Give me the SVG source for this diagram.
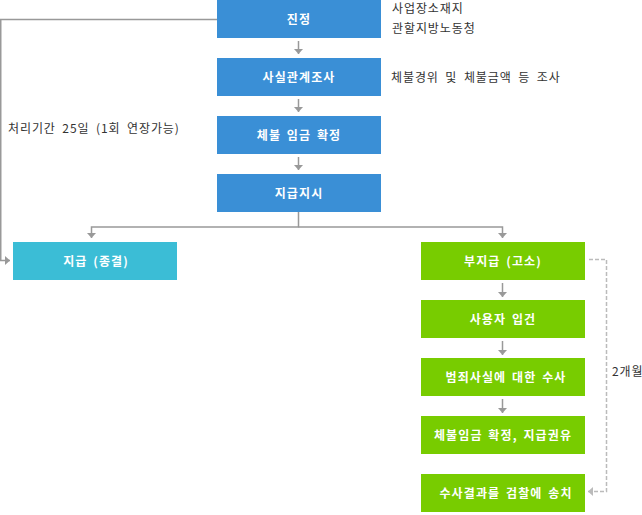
<svg xmlns="http://www.w3.org/2000/svg" width="642" height="515" viewBox="0 0 642 515">
<style>
.blue{fill:#3a8fd6}
.cyan{fill:#3bbdd6}
.green{fill:#78cc00}
.lbl{font-family:"Noto Sans CJK KR","Noto Sans",sans-serif;font-size:12px;font-weight:bold;fill:#fff;text-anchor:middle;letter-spacing:1.1px;word-spacing:2px}
.note{font-family:"Noto Sans CJK KR","Noto Sans",sans-serif;font-size:12px;fill:#333;letter-spacing:0.9px;word-spacing:3px}
.conn{fill:none;stroke:#999;stroke-width:1.5}
.dash{fill:none;stroke:#bbb;stroke-width:1.5;stroke-dasharray:4,2}
</style>
<defs>
<marker id="ah" markerUnits="userSpaceOnUse" markerWidth="6" markerHeight="10" refX="5" refY="4.5" orient="auto">
<path d="M0,0 L5,4.5 L0,9 z" fill="#999"/>
</marker>
<marker id="ahd" markerUnits="userSpaceOnUse" markerWidth="6" markerHeight="10" refX="5" refY="4.5" orient="auto">
<path d="M0,0 L5,4.5 L0,9 z" fill="#bbb"/>
</marker>
</defs>
<g id="connectors">
<path class="conn" d="M217,19.5 H0.75 V260.5 H10" marker-end="url(#ah)"/>
<path class="conn" d="M298.5,41 V54" marker-end="url(#ah)"/>
<path class="conn" d="M298.5,99 V112" marker-end="url(#ah)"/>
<path class="conn" d="M298.5,157 V170" marker-end="url(#ah)"/>
<path class="conn" d="M298.5,212 V227 H91.5 V238" marker-end="url(#ah)"/>
<path class="conn" d="M298.5,227 H502.5 V238" marker-end="url(#ah)"/>
<path class="conn" d="M502.5,283 V297" marker-end="url(#ah)"/>
<path class="conn" d="M502.5,341 V355" marker-end="url(#ah)"/>
<path class="conn" d="M502.5,399 V413" marker-end="url(#ah)"/>
<path class="dash" d="M589,259.5 H606.5 V491.5 H588" marker-end="url(#ahd)"/>
</g>
<g id="n1"><rect class="blue" x="217" y="0" width="164" height="38"/><text class="lbl" x="299" y="23.5">진정</text></g>
<g id="n2"><rect class="blue" x="217" y="58" width="164" height="38"/><text class="lbl" x="299" y="81.5">사실관계조사</text></g>
<g id="n3"><rect class="blue" x="217" y="116" width="164" height="38"/><text class="lbl" x="299" y="139.5">체불 임금 확정</text></g>
<g id="n4"><rect class="blue" x="217" y="174" width="164" height="38"/><text class="lbl" x="299" y="197.5">지급지시</text></g>
<g id="n5"><rect class="cyan" x="13" y="242" width="164" height="38"/><text class="lbl" x="96" y="265.5">지급 (종결)</text></g>
<g id="n6"><rect class="green" x="421" y="242" width="164" height="38"/><text class="lbl" x="503" y="265.5">부지급 (고소)</text></g>
<g id="n7"><rect class="green" x="421" y="300" width="164" height="38"/><text class="lbl" x="503" y="323.5">사용자 입건</text></g>
<g id="n8"><rect class="green" x="421" y="358" width="164" height="38"/><text class="lbl" x="506" y="381.5">범죄사실에 대한 수사</text></g>
<g id="n9"><rect class="green" x="421" y="416" width="164" height="38"/><text class="lbl" x="503" y="439.5">체불임금 확정, 지급권유</text></g>
<g id="n10"><rect class="green" x="421" y="474" width="164" height="38"/><text class="lbl" x="506" y="497.5">수사결과를 검찰에 송치</text></g>
<g id="notes">
<text class="note" x="392" y="13">사업장소재지</text>
<text class="note" x="392" y="33">관할지방노동청</text>
<text class="note" x="391" y="82">체불경위 및 체불금액 등 조사</text>
<text class="note" x="8" y="133">처리기간 25일 (1회 연장가능)</text>
<text class="note" x="612" y="376">2개월</text>
</g>
</svg>
